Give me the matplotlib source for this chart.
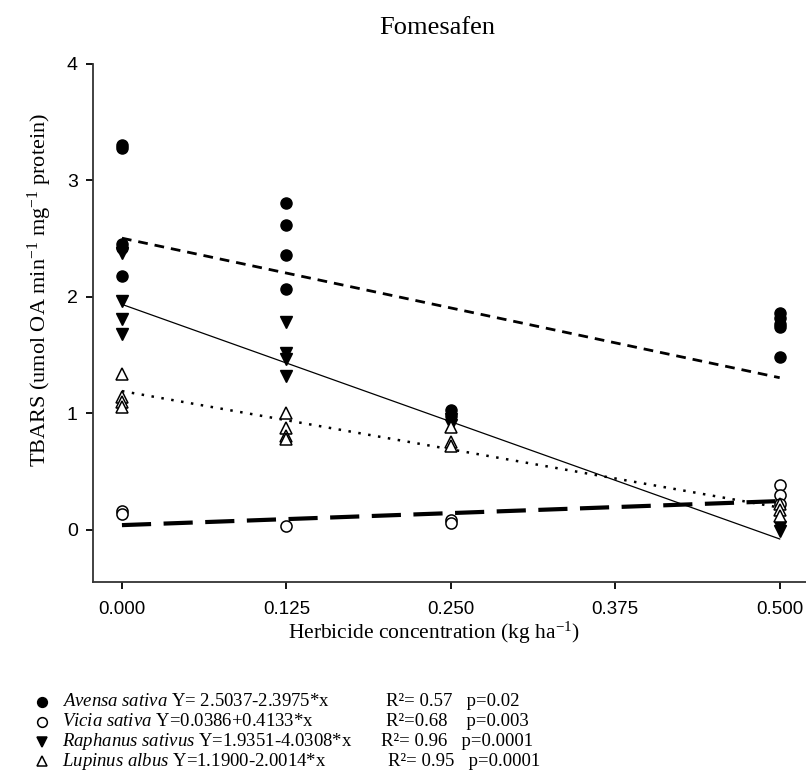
import numpy as np
import matplotlib
matplotlib.use("Agg")
import matplotlib.pyplot as plt

plt.rcParams['mathtext.fontset'] = 'custom'
plt.rcParams['mathtext.rm'] = 'Liberation Serif'
plt.rcParams['mathtext.it'] = 'Liberation Serif:italic'

avensa_x = [0, 0, 0, 0, 0, 0.125, 0.125, 0.125, 0.125, 0.25, 0.25, 0.5, 0.5, 0.5, 0.5, 0.5]
avensa_y = [3.30, 3.28, 2.45, 2.42, 2.18, 2.81, 2.62, 2.36, 2.07, 1.03, 0.98, 1.86, 1.82, 1.77, 1.74, 1.48]
vicia_x = [0, 0, 0.125, 0.25, 0.25, 0.5, 0.5, 0.5]
vicia_y = [0.16, 0.13, 0.03, 0.08, 0.06, 0.38, 0.30, 0.22]
raphanus_x = [0, 0, 0, 0, 0.125, 0.125, 0.125, 0.125, 0.25, 0.25, 0.5, 0.5]
raphanus_y = [2.38, 1.96, 1.81, 1.68, 1.78, 1.52, 1.47, 1.32, 0.95, 0.90, 0.02, -0.01]
lupinus_x = [0, 0, 0, 0, 0.125, 0.125, 0.125, 0.125, 0.25, 0.25, 0.25, 0.5, 0.5, 0.5]
lupinus_y = [1.34, 1.14, 1.10, 1.05, 1.00, 0.87, 0.80, 0.78, 0.88, 0.75, 0.72, 0.22, 0.17, 0.12]

# regression coefficients (from legend)
species = ["Avensa sativa", "Vicia sativa", "Raphanus sativus", "Lupinus albus"]
intercepts = [2.5037, 0.0386, 1.9351, 1.1900]
slopes = [-2.3975, 0.4133, -4.0308, -2.0014]
equations = ["Y= 2.5037-2.3975*x", "Y=0.0386+0.4133*x", "Y=1.9351-4.0308*x", "Y=1.1900-2.0014*x"]
stats = ["R\u00b2= 0.57   p=0.02", "R\u00b2=0.68    p=0.003", "R\u00b2= 0.96   p=0.0001", "R\u00b2= 0.95   p=0.0001"]

xticks = [0.0, 0.125, 0.25, 0.375, 0.5]
yticks = [0, 1, 2, 3, 4]

fig = plt.figure(figsize=(8.06, 7.8), dpi=100)
ax = fig.add_axes([93 / 806, 1 - 582 / 780, 1 - 93 / 806, (582 - 64) / 780])

serif = "Liberation Serif"
sans = "Liberation Sans"

ms = 8
ax.plot(avensa_x, avensa_y, 'o', color='black', ms=ms, zorder=3)
ax.plot(vicia_x, vicia_y, 'o', mfc='white', mec='black', mew=1.1, ms=ms, zorder=3)
ax.plot(raphanus_x, raphanus_y, 'v', color='black', ms=ms + 1, zorder=3)
ax.plot(lupinus_x, lupinus_y, '^', mfc='white', mec='black', mew=1.1, ms=ms + 1, zorder=3)

xl = np.array([0.0, 0.5])
styles = [
    dict(ls=(0, (3.5, 2.5)), lw=2.0),
    dict(ls=(0, (7, 3)), lw=3.0),
    dict(ls='-', lw=0.9),
    dict(ls=(0, (1, 3)), lw=1.8),
]
for a, b, st in zip(intercepts, slopes, styles):
    ax.plot(xl, a + b * xl, color='black', zorder=2, **st)

ax.set_xlim(-0.022, 0.52)
ax.set_ylim(-0.45, 4.0)
ax.set_xticks(xticks)
ax.set_xticklabels(["%.3f" % v for v in xticks], fontfamily=sans, fontsize=13.5)
ax.set_yticks(yticks)
ax.set_yticklabels([str(v) for v in yticks], fontfamily=sans, fontsize=14)
ax.tick_params(axis='y', direction='out', length=5, width=1.3, pad=6, colors='black')
ax.tick_params(axis='x', direction='out', length=5, width=1.3, pad=9, colors='black')
ax.spines['top'].set_visible(False)
ax.spines['right'].set_visible(False)
for s in ['left', 'bottom']:
    ax.spines[s].set_linewidth(1.3)
    ax.spines[s].set_color('#333333')

fig.text(434 / 806, 1 - 633 / 780, "Herbicide concentration (kg ha$^{-1}$)",
         fontfamily=serif, fontsize=15.5, ha='center', va='center')
fig.text(40 / 806, 1 - 290 / 780, "TBARS (umol OA min$^{-1}$ mg$^{-1}$ protein)",
         fontfamily=serif, fontsize=16, ha='center', va='center', rotation=90)
fig.text(437 / 806, 1 - 28 / 780, "Fomesafen", fontfamily=serif, fontsize=19, ha='center', va='center')

# legend block below the axes
rows_y = [702, 722, 742, 761]
mk = [dict(marker='o', color='black'), dict(marker='o', mfc='white', mec='black'),
      dict(marker='v', color='black'), dict(marker='^', mfc='white', mec='black')]
stat_x = [386, 386, 381, 388]
for name, eq, st, y, m, sx in zip(species, equations, stats, rows_y, mk, stat_x):
    fy = 1 - y / 780
    fig.add_artist(matplotlib.lines.Line2D([42 / 806], [fy], ms=7, ls='none', mew=1.1, **m))
    fig.text(62 / 806, fy, "$\\mathit{" + name.replace(" ", "\\ ") + "}$ " + eq,
             fontfamily=serif, fontsize=13.5, va='center')
    fig.text(sx / 806, fy, st, fontfamily=serif, fontsize=13.5, va='center')

fig.savefig("out.png", dpi=100)
